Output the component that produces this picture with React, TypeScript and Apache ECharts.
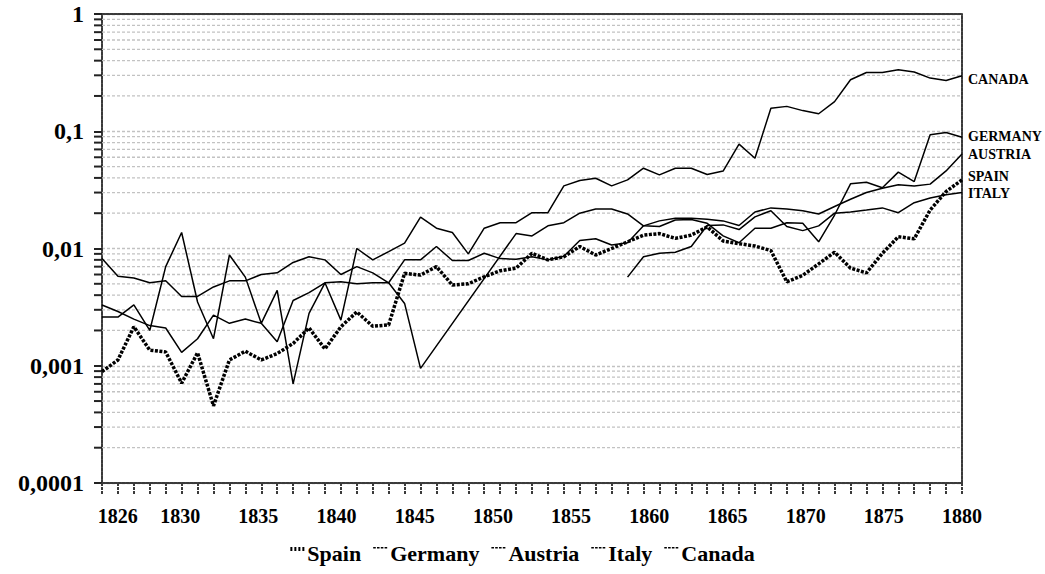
import React, { useEffect, useRef } from 'react';
import * as echarts from 'echarts';

const years: string[] = [
  '1826','1827','1828','1829','1830','1831','1832','1833','1834','1835',
  '1836','1837','1838','1839','1840','1841','1842','1843','1844','1845',
  '1846','1847','1848','1849','1850','1851','1852','1853','1854','1855',
  '1856','1857','1858','1859','1860','1861','1862','1863','1864','1865',
  '1866','1867','1868','1869','1870','1871','1872','1873','1874','1875',
  '1876','1877','1878','1879','1880',
];
const labelYears = [1826, 1830, 1835, 1840, 1845, 1850, 1855, 1860, 1865, 1870, 1875, 1880];
const labelAxisMin = 1825;
const labelAxisMax = 1880;
const yTickLabels = ['0,0001', '0,001', '0,01', '0,1', '1'];
const decades = [0.0001, 0.001, 0.01, 0.1];
const minorMultipliers = [2, 3, 4, 5, 6, 7, 8, 9];

const spain = [
  0.00089, 0.00112, 0.00215, 0.00136, 0.00131, 0.00071, 0.00129, 0.000455, 0.00112, 0.00133,
  0.00112, 0.00127, 0.00155, 0.0021, 0.00139, 0.00215, 0.00288, 0.00217, 0.00223, 0.00614,
  0.00593, 0.007, 0.00488, 0.005, 0.00574, 0.00646, 0.0068, 0.0091, 0.008, 0.0085,
  0.0104, 0.0088, 0.01, 0.0114, 0.013, 0.0134, 0.0122, 0.013, 0.0153, 0.0116,
  0.011, 0.0105, 0.0096, 0.0052, 0.0059, 0.0074, 0.0093, 0.0068, 0.0062, 0.0091,
  0.0126, 0.0121, 0.0213, 0.0306, 0.0385,
];
const germany = [
  0.0082, 0.0058, 0.0056, 0.0051, 0.0053, 0.0039, 0.0039, 0.0047, 0.0053, 0.0053,
  0.006, 0.0062, 0.0076, 0.0085, 0.008, 0.006, 0.007, 0.0062, 0.0051, 0.0034,
  0.00095, null, null, null, null, null, 0.0134, 0.0128, 0.0156, 0.0166,
  0.02, 0.0217, 0.0217, 0.0197, 0.0156, 0.0154, 0.0175, 0.0177, 0.0164, 0.0128,
  0.0112, 0.0149, 0.0149, 0.0166, 0.0164, 0.0114, 0.0193, 0.0356, 0.0367, 0.033,
  0.0448, 0.0372, 0.0932, 0.0975, 0.089,
];
const austria = [
  0.0033, 0.0029, 0.0025, 0.0022, 0.0021, 0.0013, 0.0017, 0.0027, 0.0023, 0.0025,
  0.0023, 0.0016, 0.0036, 0.0042, 0.0051, 0.0052, 0.005, 0.0051, 0.0051, 0.008,
  0.008, 0.0104, 0.0079, 0.0079, 0.0091, 0.0082, 0.0081, 0.0085, 0.008, 0.0086,
  0.0117, 0.0121, 0.0107, 0.0112, 0.0156, 0.0172, 0.0181, 0.0181, 0.0178, 0.0172,
  0.0157, 0.0205, 0.0222, 0.0217, 0.021, 0.0197, 0.0228, 0.0263, 0.03, 0.0327,
  0.0349, 0.0342, 0.0354, 0.0459, 0.064,
];
const italy = [
  null, null, null, null, null, null, null, null, null, null,
  null, null, null, null, null, null, null, null, null, null,
  null, null, null, null, null, null, null, null, null, null,
  null, null, null, 0.0057, 0.0085, 0.0091, 0.0093, 0.0104, 0.0157, 0.0159,
  0.0145, 0.0186, 0.021, 0.0154, 0.0142, 0.0156, 0.02, 0.0205, 0.0213, 0.0222,
  0.0202, 0.0246, 0.027, 0.0287, 0.03,
];
const canada = [
  0.0026, 0.0026, 0.0033, 0.002, 0.007, 0.0137, 0.0035, 0.0017, 0.0088, 0.0057,
  0.0023, 0.0044, 0.0007, 0.0028, 0.0051, 0.00245, 0.01, 0.008, 0.0094, 0.0111,
  0.0185, 0.0149, 0.0137, 0.009, 0.0149, 0.0166, 0.0166, 0.0202, 0.0202, 0.0342,
  0.038, 0.0397, 0.0342, 0.0385, 0.0484, 0.0425, 0.0484, 0.0484, 0.0428, 0.0458,
  0.0776, 0.0589, 0.157, 0.163, 0.15, 0.141, 0.179, 0.275, 0.317, 0.317,
  0.334, 0.32, 0.284, 0.271, 0.297,
];

const seriesNames = ['Spain', 'Germany', 'Austria', 'Italy', 'Canada'];
const endNames = ['SPAIN', 'GERMANY', 'AUSTRIA', 'ITALY', 'CANADA'];

const FONT = "'Liberation Serif', 'Times New Roman', serif";

const DOTTED_ICON = 'path://M0,0h2v4h-2zM4,0h2v4h-2zM8,0h2v4h-2zM12,0h2v4h-2zM0,12h14v0h-14z';
const DASHED_ICON = 'path://M0,0h2.6v1.6h-2.6zM3.8,0h2.6v1.6h-2.6zM7.6,0h2.6v1.6h-2.6zM11.4,0h2.6v1.6h-2.6zM0,12h14v0h-14z';

export default function App() {
  const ref = useRef<HTMLDivElement>(null);
  useEffect(() => {
    if (!ref.current) return;
    const chart = echarts.init(ref.current, undefined, { renderer: 'svg' });
    const minorGridValues: number[] = [];
    decades.forEach((d) => minorMultipliers.forEach((m) => minorGridValues.push(+(d * m).toPrecision(3))));

    const axisLineStyle = { color: '#3a3a3a', width: 2, type: [3, 1] as number[] };
    const gridLineStyle = { color: '#c2c2c2', width: 1.3, type: [3, 2] as number[] };

    const lineSeries = (idx: number, data: (number | null)[], dy: number) => {
      const isSpain = idx === 0;
      return {
        name: seriesNames[idx],
        type: 'line',
        data,
        xAxisIndex: 0,
        yAxisIndex: 0,
        connectNulls: true,
        symbol: 'none',
        z: 3,
        lineStyle: isSpain
          ? { color: '#000', width: 3.5, type: [3, 1.5] }
          : { color: '#000', width: 1.5 },
        itemStyle: { color: '#000' },
        endLabel: {
          show: true,
          formatter: endNames[idx],
          distance: 6,
          offset: [0, dy],
          fontFamily: FONT,
          fontWeight: 'bold',
          fontSize: 14,
          color: '#000',
        },
      };
    };

    chart.setOption({
      animation: false,
      backgroundColor: '#fff',
      grid: { left: 102, right: 83, top: 14, bottom: 91, containLabel: false, outerBoundsMode: 'none' },
      legend: {
        data: seriesNames.map((n, i) => ({ name: n, icon: i === 0 ? DOTTED_ICON : DASHED_ICON })),
        top: 537,
        left: 'center',
        itemWidth: 14,
        itemHeight: 12,
        itemGap: 12,
        itemStyle: { color: '#000', borderWidth: 0 },
        textStyle: { fontFamily: FONT, fontWeight: 'bold', fontSize: 22, color: '#000', padding: [0, 0, 0, -2] },
      },
      xAxis: [
        {
          type: 'category',
          data: years,
          boundaryGap: false,
          axisLine: { show: true, lineStyle: axisLineStyle },
          axisTick: { show: true, interval: 0, length: 12, lineStyle: { color: '#3a3a3a', width: 2, type: [3, 1] } },
          axisLabel: { show: false },
          splitLine: { show: false },
        },
        {
          type: 'category',
          data: years,
          boundaryGap: false,
          position: 'top',
          axisLine: { show: true, lineStyle: axisLineStyle },
          axisTick: { show: false },
          axisLabel: { show: false },
          splitLine: { show: false },
        },
        {
          type: 'value',
          min: labelAxisMin,
          max: labelAxisMax,
          interval: 1,
          position: 'bottom',
          axisLine: { show: false },
          axisTick: { show: false },
          splitLine: { show: false },
          axisLabel: {
            show: true,
            margin: 23,
            fontFamily: FONT,
            fontWeight: 'bold',
            fontSize: 20,
            color: '#000',
            hideOverlap: false,
            formatter: (v: number) => (labelYears.includes(v) ? String(v) : ''),
          },
        },
      ],
      yAxis: [
        {
          type: 'log',
          logBase: 10,
          min: 0.0001,
          max: 1,
          axisLine: { show: true, lineStyle: axisLineStyle },
          axisTick: { show: true, length: 8, lineStyle: { color: '#222', width: 2 } },
          axisLabel: {
            margin: 18,
            fontFamily: FONT,
            fontWeight: 'bold',
            fontSize: 24,
            color: '#000',
            formatter: (v: number) => yTickLabels[Math.round(Math.log10(v)) + 4],
          },
          splitLine: { show: true, lineStyle: gridLineStyle },
        },
        {
          type: 'log',
          logBase: 10,
          min: 0.0001,
          max: 1,
          position: 'right',
          axisLine: { show: true, lineStyle: axisLineStyle },
          axisTick: { show: false },
          axisLabel: { show: false },
          splitLine: { show: false },
        },
      ],
      series: [
        {
          type: 'custom',
          name: 'minorGrid',
          silent: true,
          clip: false,
          z: 1,
          xAxisIndex: 0,
          yAxisIndex: 0,
          data: minorGridValues.map((v) => [0, v]),
          encode: { x: 0, y: 1 },
          renderItem: (_p: any, api: any) => {
            const v = api.value(1);
            const a = api.coord([0, v]);
            const b = api.coord([years.length - 1, v]);
            return {
              type: 'group',
              children: [
                {
                  type: 'line',
                  shape: { x1: a[0], y1: a[1], x2: b[0], y2: b[1] },
                  style: { stroke: '#c2c2c2', lineWidth: 1.3, lineDash: [3, 2] },
                },
                {
                  type: 'line',
                  shape: { x1: a[0] - 8, y1: a[1], x2: a[0], y2: a[1] },
                  style: { stroke: '#222', lineWidth: 2 },
                },
              ],
            };
          },
        },
        lineSeries(0, spain, -3),
        lineSeries(1, germany, -1),
        lineSeries(2, austria, 1),
        lineSeries(3, italy, 1),
        lineSeries(4, canada, 4),
      ],
    });
    return () => chart.dispose();
  }, []);
  return <div ref={ref} style={{ position: 'fixed', left: 0, top: 0, width: 1045, height: 574 }} />;
}
